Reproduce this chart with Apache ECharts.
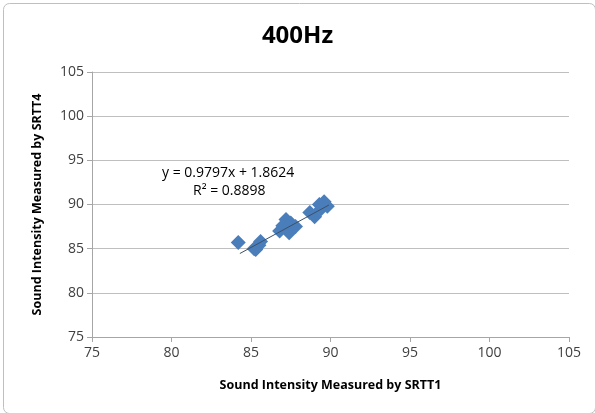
<!DOCTYPE html>
<html>
<head>
<meta charset="utf-8">
<script src="https://cdn.jsdelivr.net/npm/echarts@6/dist/echarts.min.js"></script>
<style>
  html, body { margin: 0; padding: 0; background: #fff; }
  #chart { width: 595px; height: 413px; }
</style>
</head>
<body>
<div id="chart"></div>
<script>
  var srtt1 = [84.2, 85.2, 85.5, 85.6, 85.3, 86.8, 87.0, 87.2, 87.5, 87.4, 87.8, 88.7, 89.0, 89.3, 89.6, 89.4, 89.8];
  var srtt4 = [85.7, 85.0, 85.4, 85.8, 84.9, 87.0, 87.6, 88.3, 87.9, 86.8, 87.5, 89.1, 88.6, 90.0, 90.3, 89.5, 89.8];
  var trendX = [84.3, 89.9];
  var trendY = [84.45, 89.94];
  var axisTicks = [75, 80, 85, 90, 95, 100, 105];
  var equation = ['y = 0.9797x + 1.8624', 'R\u00B2 = 0.8898'];

  var font = '"Open Sans", "Noto Sans", sans-serif';
  var points = srtt1.map(function(x, i) { return [x, srtt4[i]]; });
  var trend = trendX.map(function(x, i) { return [x, trendY[i]]; });

  var chart = echarts.init(document.getElementById('chart'));

  var option = {
    animation: false,
    backgroundColor: '#fff',
    title: {
      text: '400Hz',
      left: 'center',
      top: 19,
      textStyle: { fontFamily: font, fontSize: 24, fontWeight: 'bold', color: '#000' }
    },
    grid: { left: 92, right: 26, top: 72, bottom: 76 },
    xAxis: {
      type: 'value',
      min: axisTicks[0],
      max: axisTicks[axisTicks.length - 1],
      interval: 5,
      name: 'Sound Intensity Measured by SRTT1',
      nameLocation: 'middle',
      nameGap: 42,
      nameTextStyle: { fontFamily: font, fontSize: 12.5, fontWeight: 'bold', color: '#000' },
      axisLine: { show: true, lineStyle: { color: '#a6a6a6' } },
      axisTick: { show: true, length: 5, lineStyle: { color: '#a6a6a6' } },
      axisLabel: { fontFamily: font, fontSize: 14, color: '#404040', margin: 9 },
      splitLine: { show: false }
    },
    yAxis: {
      type: 'value',
      min: axisTicks[0],
      max: axisTicks[axisTicks.length - 1],
      interval: 5,
      name: 'Sound Intensity Measured by SRTT4',
      nameLocation: 'middle',
      nameGap: 48,
      nameTextStyle: { fontFamily: font, fontSize: 12.5, fontWeight: 'bold', color: '#000' },
      axisLine: { show: true, lineStyle: { color: '#a6a6a6' } },
      axisTick: { show: true, length: 5, lineStyle: { color: '#a6a6a6' } },
      axisLabel: { fontFamily: font, fontSize: 14, color: '#404040', margin: 8 },
      splitLine: { show: true, lineStyle: { color: '#bfbfbf', width: 1 } }
    },
    series: [
      {
        type: 'scatter',
        data: points,
        symbol: 'diamond',
        symbolSize: 15,
        itemStyle: { color: '#4a7ebb', opacity: 1 }
      },
      {
        type: 'line',
        data: trend,
        symbol: 'none',
        lineStyle: { color: '#3d4f66', width: 1 },
        z: 3
      }
    ],
    graphic: [
      {
        type: 'rect',
        left: 1, top: 1,
        shape: { width: 592, height: 410, r: 6 },
        style: { fill: 'none', stroke: '#bfbfbf', lineWidth: 1 }
      },
      {
        type: 'text',
        left: 162, top: 166,
        style: { text: equation[0], font: '14px ' + font, fill: '#000' }
      },
      {
        type: 'text',
        left: 193, top: 184,
        style: { text: equation[1], font: '14px ' + font, fill: '#000' }
      }
    ]
  };

  chart.setOption(option);
</script>
</body>
</html>
